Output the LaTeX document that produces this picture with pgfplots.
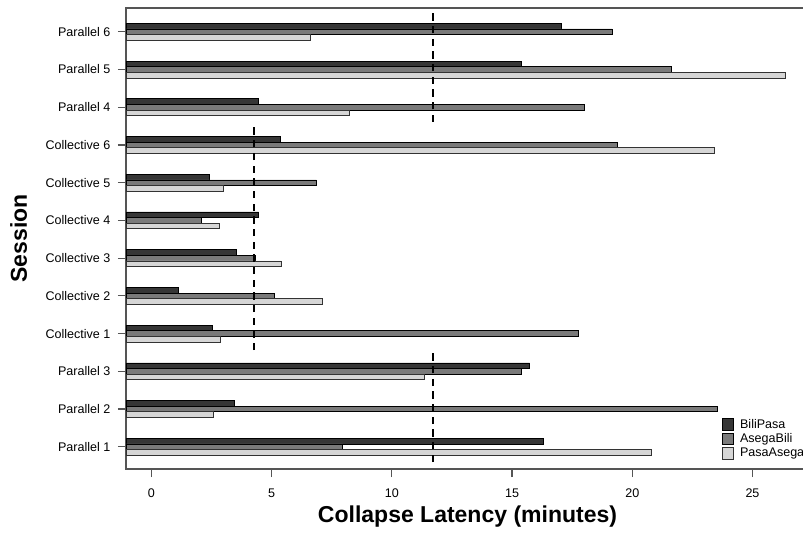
\documentclass[border=0pt]{standalone}
\usepackage{fontspec}
\setmainfont{Liberation Sans}
\usepackage{pgfplots}
\pgfplotsset{compat=1.18}
\usepackage{pgfplotstable}

\definecolor{cdark}{HTML}{363636}
\definecolor{cmid}{HTML}{7A7A7A}
\definecolor{clight}{HTML}{D6D6D6}
\definecolor{cframe}{HTML}{555555}

\pgfplotstableread{
v i
16.29 1
3.44 2
15.73 3
2.54 4
1.11 5
3.55 6
4.46 7
2.43 8
5.38 9
4.46 10
15.37 11
17.03 12
}\bilipasa
\pgfplotstableread{
v i
7.96 1
23.52 2
15.37 3
17.77 4
5.10 5
4.33 6
2.09 7
6.86 8
19.36 9
18.00 10
21.64 11
19.16 12
}\asegabili
\pgfplotstableread{
v i
20.81 1
2.58 2
11.35 3
2.87 4
7.13 5
5.41 6
2.82 7
2.99 8
23.41 9
8.22 10
26.36 11
6.63 12
}\pasaasega

\begin{document}
\begin{tikzpicture}
\useasboundingbox (0,0) rectangle (602.25pt,399.75pt);
\clip (0,0) rectangle (602.25pt,399.75pt);
\begin{axis}[
  at={(94.5pt,48pt)}, anchor=south west,
  scale only axis, width=512.25pt, height=345.75pt,
  % bars start at the left frame: axis value v is drawn at v+1.052
  x filter/.code={\pgfmathparse{#1+1.052}},
  xmin=0, xmax=28.402, ymin=0.41, ymax=12.63,
  bar width=0.1485,
  xtick={1.052,6.052,11.052,16.052,21.052,26.052},
  xticklabels={0,5,10,15,20,25},
  ytick={1,...,12},
  yticklabels={Parallel 1,Parallel 2,Parallel 3,Collective 1,Collective 2,Collective 3,Collective 4,Collective 5,Collective 6,Parallel 4,Parallel 5,Parallel 6},
  xtick pos=bottom, ytick pos=left,
  tick align=outside, major tick length=6pt,
  axis line style={cframe, line width=0.9pt},
  every tick/.style={cframe, line width=0.9pt},
  tick label style={font=\fontsize{9.4}{11}\selectfont},
  xticklabel style={yshift=-5pt},
  yticklabel style={xshift=-2.25pt},
  /pgf/number format/assume math mode=true,
  xlabel={\bfseries Collapse Latency (minutes)},
  ylabel={\bfseries Session},
  label style={font=\fontsize{17.25}{20}\selectfont},
  xlabel style={at={(axis description cs:0.5,0)}, anchor=base, yshift=-39.75pt},
  ylabel style={at={(axis description cs:0,0.5)}, anchor=base, yshift=74.25pt},
  legend image code/.code={\draw[#1,line width=0.5pt] (0pt,-4.35pt) rectangle (8.7pt,4.35pt);},
  legend cell align=left,
  legend style={draw=none, fill=none, at={(rel axis cs:0.872,0.1105)}, anchor=north west,
    inner sep=0pt, row sep=1.6pt, column sep=4.5pt,
    font=\fontsize{9.4}{11}\selectfont, nodes={inner sep=0pt}},
]
\addplot[xbar, fill=cdark, draw=black, line width=0.5pt, bar shift=0.1485] table[x=v,y=i]{\bilipasa};
\addlegendentry{BiliPasa}
\addplot[xbar, fill=cmid, draw=black, line width=0.5pt, bar shift=0] table[x=v,y=i]{\asegabili};
\addlegendentry{AsegaBili}
\addplot[xbar, fill=clight, draw=black!80, line width=0.5pt, bar shift=-0.1485] table[x=v,y=i]{\pasaasega};
\addlegendentry{PasaAsega}
\addplot[forget plot, sharp plot, black, line width=1.5pt, dash pattern=on 5.5pt off 4pt] coordinates {(11.73,9.61) (11.73,12.52)};
\addplot[forget plot, sharp plot, black, line width=1.5pt, dash pattern=on 5.5pt off 4pt] coordinates {(4.28,3.56) (4.28,9.53)};
\addplot[forget plot, sharp plot, black, line width=1.5pt, dash pattern=on 5.5pt off 4pt] coordinates {(11.73,0.595) (11.73,3.49)};
\end{axis}
\end{tikzpicture}
\end{document}
